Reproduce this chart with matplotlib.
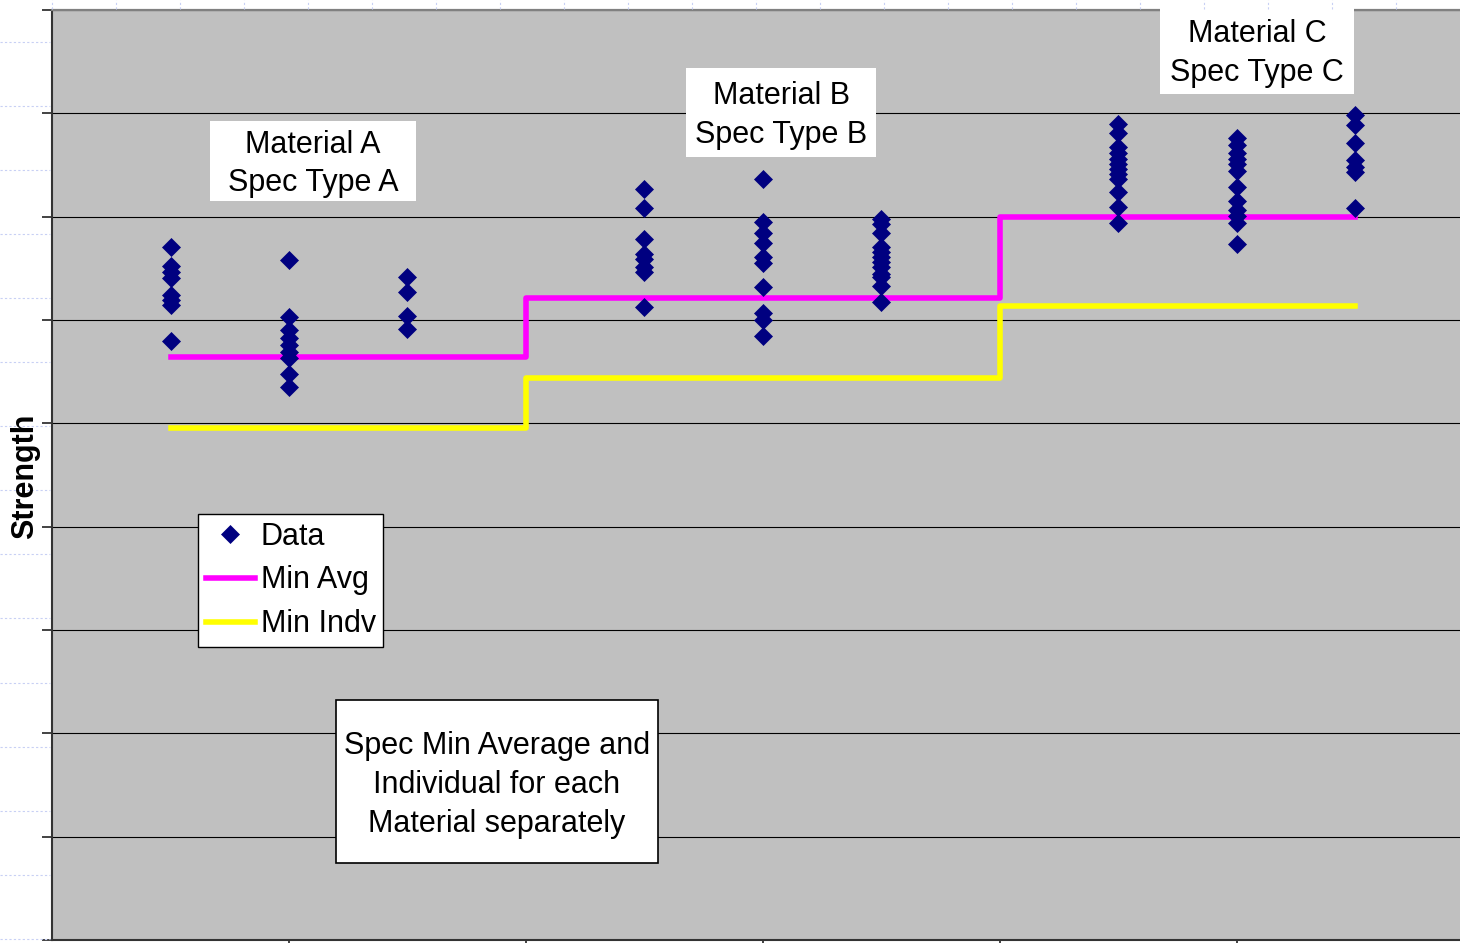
import numpy as np
import matplotlib
matplotlib.use("Agg")
import matplotlib.pyplot as plt
from matplotlib.patches import Rectangle
from matplotlib.lines import Line2D

plt.rcParams['font.family'] = ['Liberation Sans', 'DejaVu Sans']

# group positions along x (gaps between materials)
positions = [1, 2, 3, 5, 6, 7, 9, 10, 11]

# strength readings per group
strength = [
    [67.1, 65.2, 64.6, 64.1, 62.4, 61.9, 61.5, 58.0],
    [65.8, 60.3, 59.0, 58.3, 57.6, 56.9, 56.3, 54.8, 53.5],
    [64.2, 62.7, 60.4, 59.1],
    [72.7, 70.8, 67.8, 66.4, 65.9, 65.1, 64.6, 61.3],
    [73.6, 69.5, 68.4, 67.5, 66.1, 65.5, 63.2, 60.7, 60.0, 58.5],
    [69.8, 69.3, 68.4, 67.1, 66.6, 66.1, 65.6, 65.1, 64.5, 64.2, 63.3, 61.7],
    [79.0, 78.1, 76.7, 76.2, 75.6, 75.1, 74.6, 74.1, 73.6, 72.4, 70.9, 69.4],
    [77.6, 76.9, 76.2, 75.6, 75.1, 74.4, 72.9, 71.5, 70.6, 70.1, 69.4, 67.4],
    [79.8, 78.9, 77.1, 75.5, 74.8, 74.3, 70.8],
]

# spec limits, stepped per material
spec_x = [1, 4, 8, 11]
min_avg = [56.4, 62.1, 70.0, 70.0]
min_indv = [49.5, 54.4, 61.4, 61.4]

fig = plt.figure(figsize=(14.6, 9.43), dpi=100)
ax = fig.add_axes([52 / 1460, 3 / 943, 1408 / 1460, 930 / 943])
ax.set_facecolor('#c0c0c0')

ax.set_xlim(0, 1408 / 118.5)
ax.set_ylim(0, 90)
ax.set_yticks(np.arange(0, 91, 10))
ax.set_xticks([2, 4, 6, 8, 10])
ax.tick_params(axis='both', direction='out', length=7, width=1.2,
               color='#222222', labelleft=False, labelbottom=False)
ax.yaxis.grid(True, color='black', lw=0.8)
ax.set_axisbelow(True)

ax.spines['right'].set_visible(False)
ax.spines['top'].set_color('#808080')
ax.spines['top'].set_linewidth(1.6)
for s in ('left', 'bottom'):
    ax.spines[s].set_color('#333333')
    ax.spines[s].set_linewidth(1.5)

ax.step(spec_x, min_avg, where='post', color='#ff00ff', lw=4.0, label='Min Avg', zorder=3)
ax.step(spec_x, min_indv, where='post', color='#ffff00', lw=4.0, label='Min Indv', zorder=3)

for i, (x, vals) in enumerate(zip(positions, strength)):
    ax.plot([x] * len(vals), vals, ls='none', marker='D', ms=9, color='#000080',
            mec='#000080', mew=0.5, zorder=4, label='Data' if i == 0 else None)

FS = 22


def text_box(x0, x1, y0, y1, txt, cx, cy, edge=None):
    ax.add_patch(Rectangle((x0, y0), x1 - x0, y1 - y0, facecolor='white',
                           edgecolor=edge if edge else 'none', lw=1.2,
                           zorder=5, clip_on=False))
    ax.text(cx, cy, txt, ha='center', va='center', fontsize=FS,
            linespacing=1.38, zorder=6, clip_on=False)


text_box(1.333, 3.072, 71.52, 79.26, 'Material A\nSpec Type A', 2.203, 75.1)
text_box(5.35, 6.954, 75.78, 84.39, 'Material B\nSpec Type B', 6.152, 79.8)
text_box(9.35, 10.99, 81.87, 90.4, 'Material C\nSpec Type C', 10.17, 85.8)
text_box(2.397, 5.114, 7.45, 23.23,
         'Spec Min Average and\nIndividual for each\nMaterial separately',
         3.755, 15.0, edge='black')

handles, labels = ax.get_legend_handles_labels()
order = [labels.index(k) for k in ('Data', 'Min Avg', 'Min Indv')]
leg = ax.legend([handles[k] for k in order], [labels[k] for k in order],
                loc='upper left', bbox_to_anchor=(0.1037, 0.458),
                borderaxespad=0, fontsize=FS, frameon=True, fancybox=False,
                framealpha=1, edgecolor='black', handlelength=1.6,
                handletextpad=0.2, borderpad=0.25, labelspacing=0.45)
leg.get_frame().set_linewidth(1.0)
leg.set_zorder(7)

fig.text(25 / 1460, 1 - 476 / 943, 'Strength', rotation=90, ha='center',
         va='center', fontsize=FS, fontweight='bold')

# faint worksheet cell lines around the plot area
for yy in np.arange(42, 943, 64.05):
    fig.add_artist(Line2D([0, 50 / 1460], [1 - yy / 943] * 2, color='#c8d0f4',
                          lw=0.8, ls=(0, (2, 2))))
for xx in np.arange(52, 1460, 64):
    fig.add_artist(Line2D([xx / 1460] * 2, [1 - 9 / 943, 1], color='#c8d0f4',
                          lw=0.8, ls=(0, (2, 2))))

fig.savefig('out.png', dpi=100)
